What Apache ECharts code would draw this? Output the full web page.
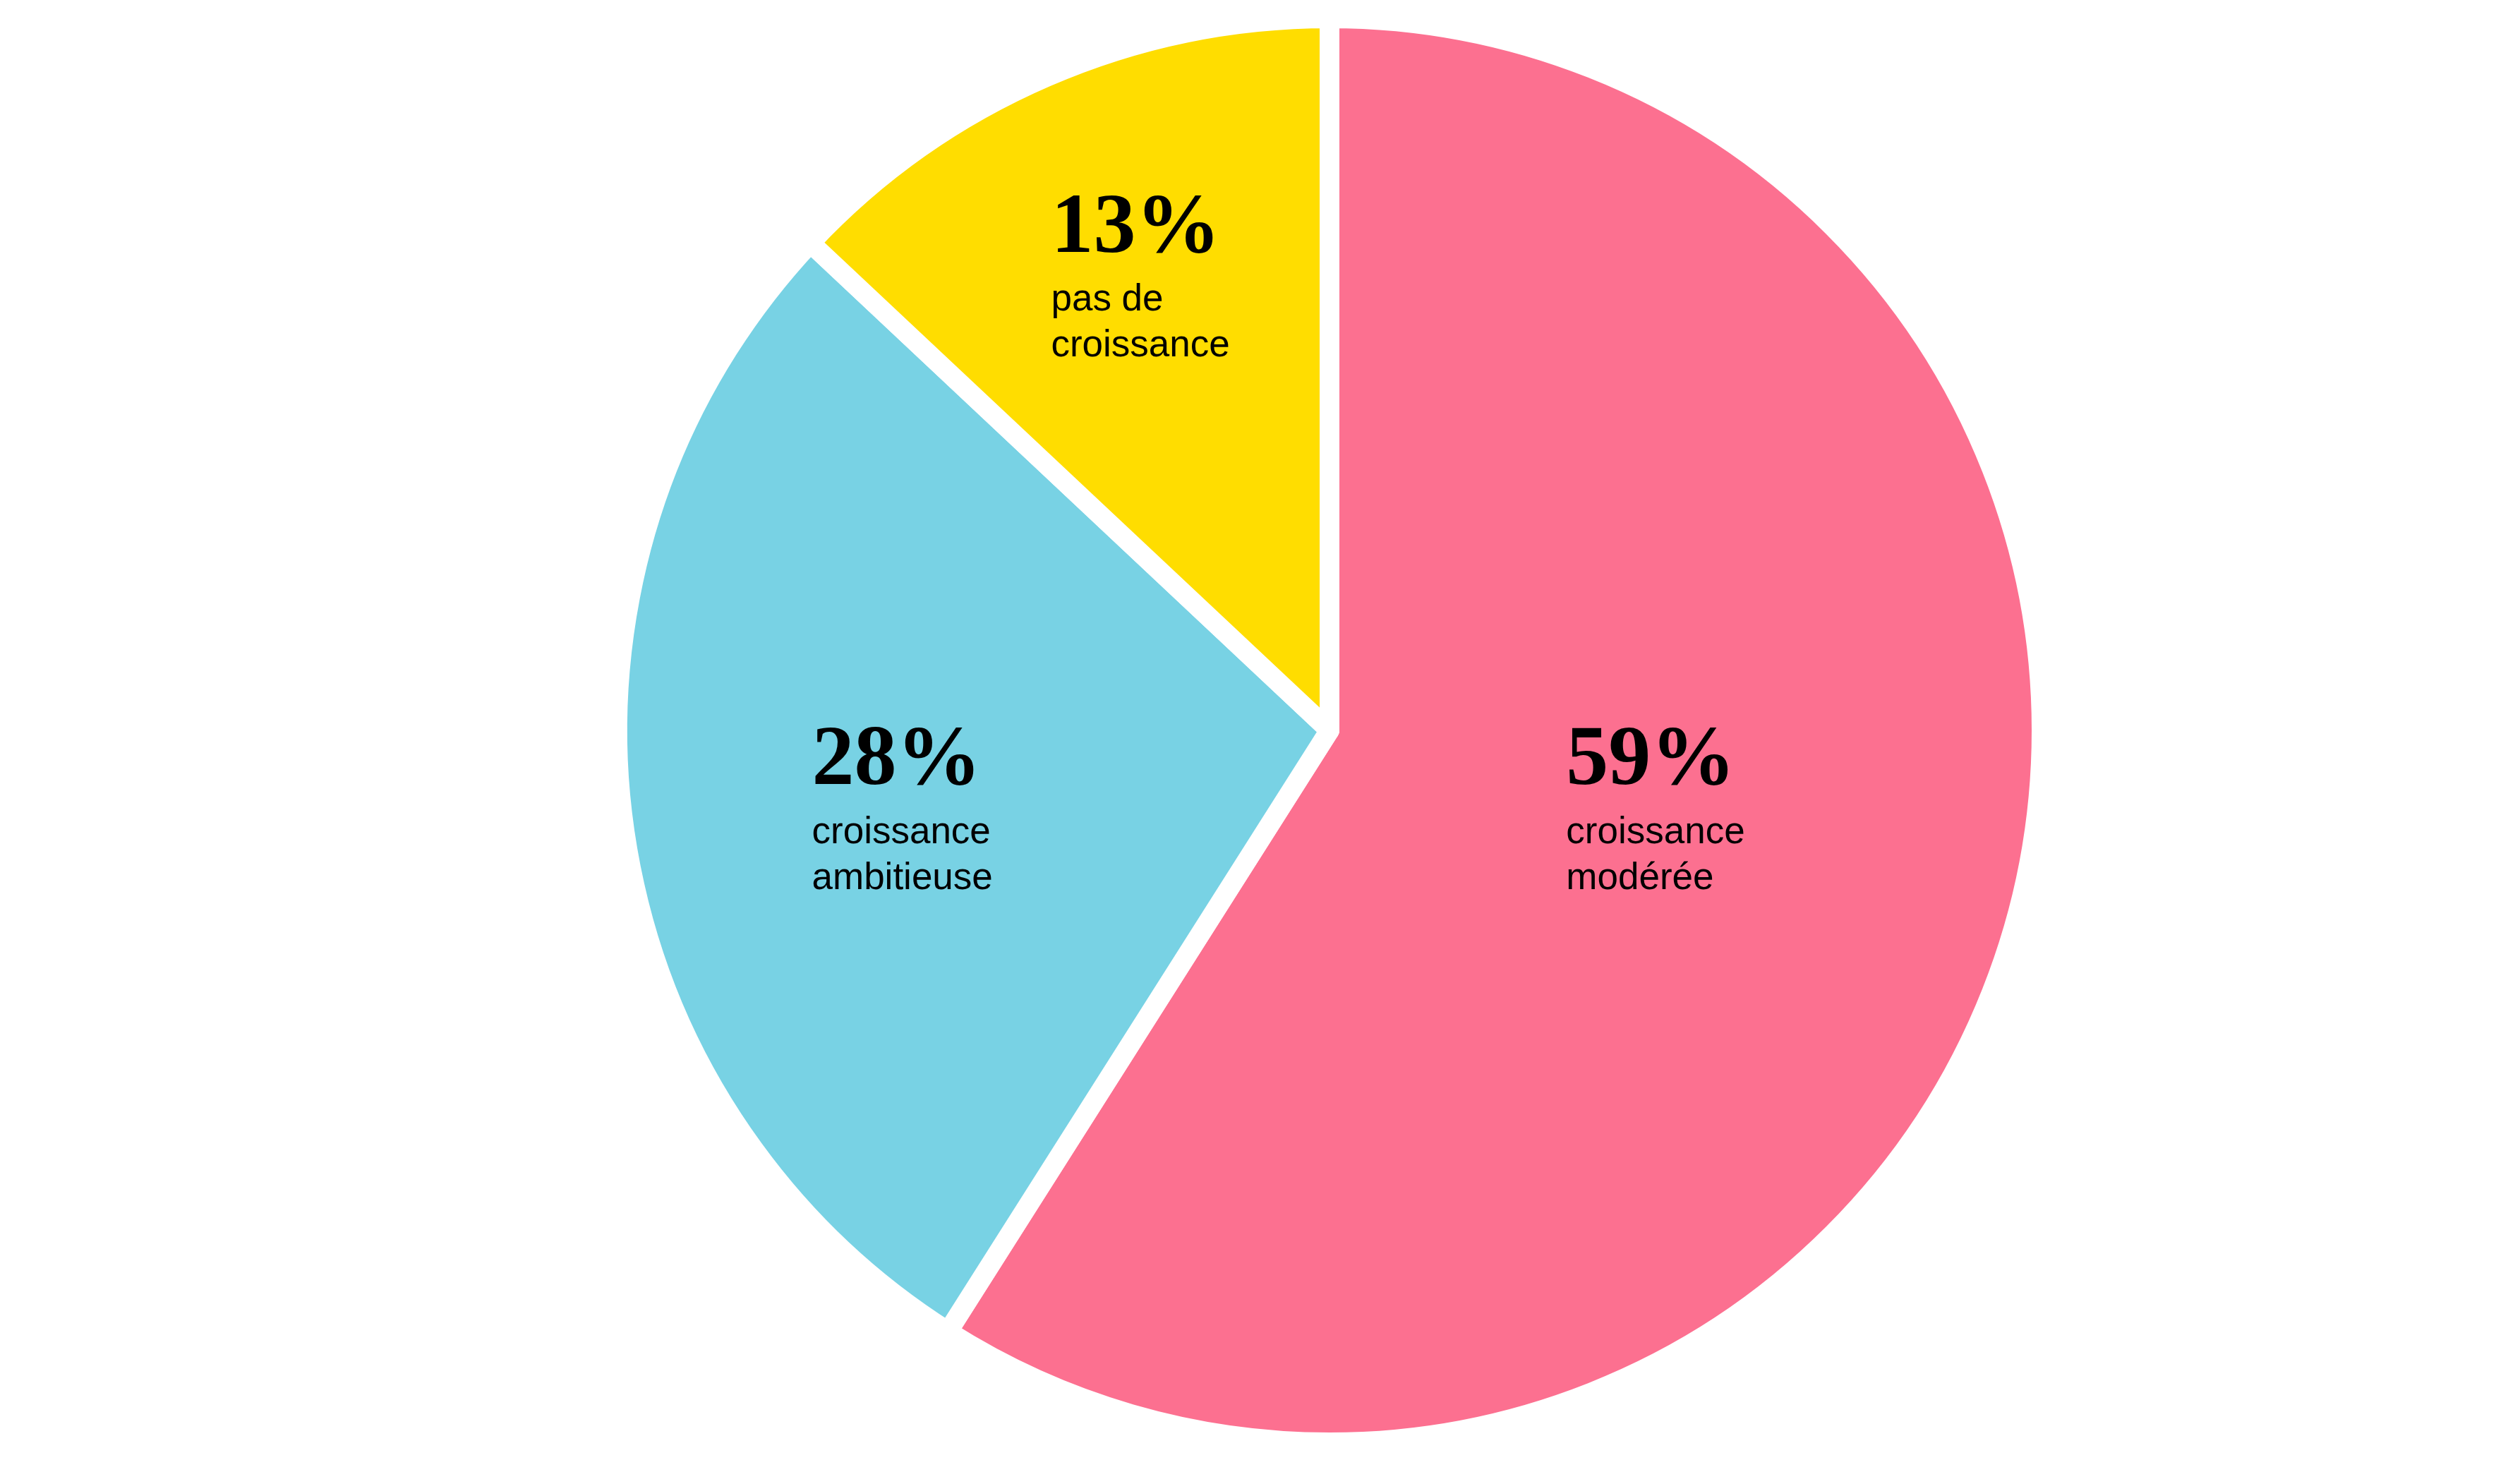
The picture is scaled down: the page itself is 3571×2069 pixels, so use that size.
<!DOCTYPE html>
<html>
<head>
<meta charset="utf-8">
<script src="https://cdn.jsdelivr.net/npm/echarts@6/dist/echarts.min.js"></script>
<style>
html, body { margin: 0; padding: 0; background: #fff; }
#chart { width: 3571px; height: 2069px; }
</style>
</head>
<body>
<div id="chart"></div>
<script>
var categories = ['croissance\nmodérée', 'croissance\nambitieuse', 'pas de\ncroissance'];
var shares = [59, 28, 13];
var colors = ['#FC7090', '#78D2E4', '#FFDD00'];

// nudge of each label's top-left corner from the default inside spot
var labelShift = [[-152, -164], [-230, -86], [-193, -311]];

var chart = echarts.init(document.getElementById('chart'));

var pieData = shares.map(function (v, i) {
    return { name: categories[i], value: v, itemStyle: { color: colors[i] } };
});

chart.setOption({
    animation: false,
    series: [{
        type: 'pie',
        center: [1884, 1035],
        radius: 1009,
        startAngle: 90,
        clockwise: true,
        silent: true,
        data: pieData,
        itemStyle: {
            borderColor: '#fff',
            borderWidth: 28,
            borderJoin: 'round'
        },
        labelLine: { show: false },
        label: {
            show: true,
            position: 'inside',
            formatter: function (p) {
                var lines = p.name.split('\n').map(function (s) { return '{t|' + s + '}'; });
                return '{p|' + p.value + '%}\n' + lines.join('\n');
            },
            rich: {
                p: {
                    fontFamily: 'Liberation Serif',
                    fontWeight: 'bold',
                    fontSize: 120,
                    lineHeight: 135,
                    color: '#000'
                },
                t: {
                    fontFamily: 'Liberation Sans',
                    fontSize: 53,
                    lineHeight: 65,
                    color: '#000'
                }
            }
        },
        labelLayout: function (params) {
            var s = labelShift[params.dataIndex];
            return { dx: s[0], dy: s[1], align: 'left', verticalAlign: 'top' };
        }
    }]
});
</script>
</body>
</html>
